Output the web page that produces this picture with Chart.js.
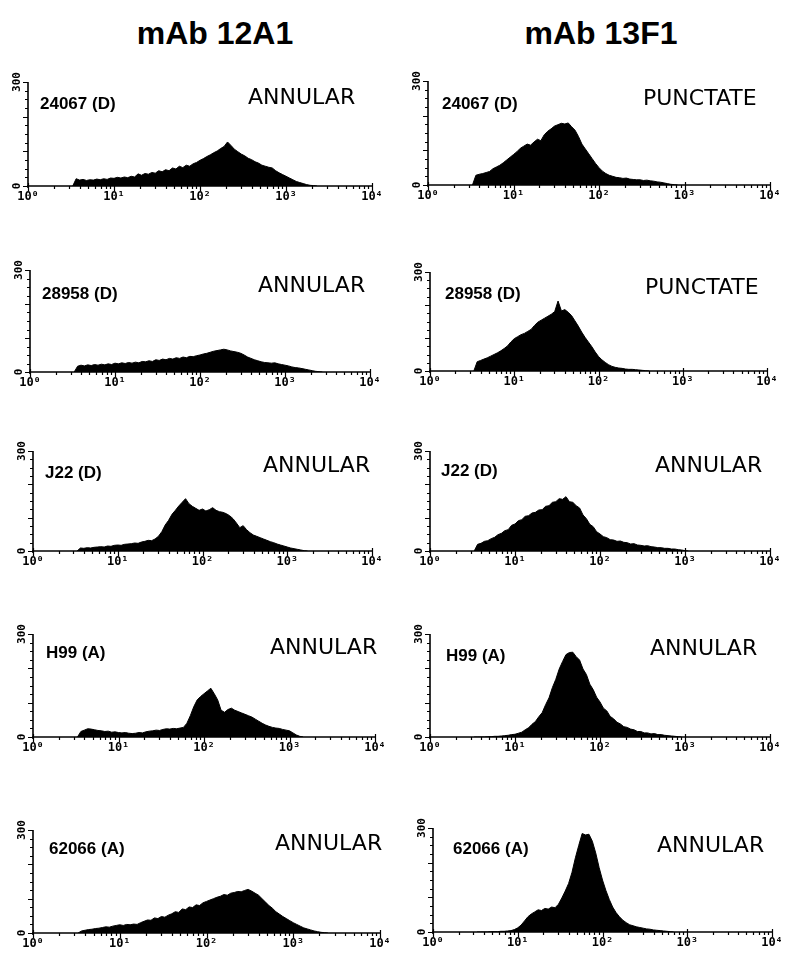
<!DOCTYPE html>
<html><head><meta charset="utf-8">
<script src="https://cdn.jsdelivr.net/npm/chart.js@4.4.1/dist/chart.umd.min.js"></script>
<style>
html,body{margin:0;padding:0;background:#fff;}
#page{position:relative;width:800px;height:966px;overflow:hidden;background:#fff;}
canvas{position:absolute;}
.title{position:absolute;font:bold 32px "Liberation Sans",Arial,sans-serif;line-height:32px;white-space:nowrap;color:#000;transform:translateX(-50%);}
.sample{position:absolute;font:bold 17px "Liberation Sans",Arial,sans-serif;line-height:17px;white-space:nowrap;color:#000;}
.pattern{position:absolute;font-family:"DejaVu Sans",sans-serif;font-size:22px;font-weight:400;line-height:22px;white-space:nowrap;color:#000;}
</style></head><body><div id="page"></div>
<script>
// ---------- data ----------
const mAbTitles = ['mAb 12A1', 'mAb 13F1'];
const sampleNames = ['24067 (D)', '28958 (D)', 'J22 (D)', 'H99 (A)', '62066 (A)'];
const patterns12A1 = ['ANNULAR', 'ANNULAR', 'ANNULAR', 'ANNULAR', 'ANNULAR'];
const patterns13F1 = ['PUNCTATE', 'PUNCTATE', 'ANNULAR', 'ANNULAR', 'ANNULAR'];
const xTickExponents = [0, 1, 2, 3, 4];
const yTickLabels = [0, 300];
// channel grid: first channel at 10^0.52, 0.04 decade per channel
const binStartLog = 0.52, binStepLog = 0.04;

const counts_24067_12A1 = [0,21,17,19,16,18,17,20,18,21,19,23,22,25,23,26,24,28,26,35,31,36,34,39,37,44,41,47,44,52,49,57,53,60,57,64,68,74,79,85,90,96,101,108,114,127,117,106,99,92,87,80,76,70,66,60,57,54,52,44,38,33,28,23,18,13,10,7,4,2,1,0];
const counts_24067_13F1 = [0,28,31,33,36,39,47,52,57,64,72,80,88,96,106,112,118,115,124,132,128,145,155,162,170,174,178,176,179,168,158,140,118,104,90,76,62,50,40,33,28,25,22,21,19,20,17,16,15,15,13,14,12,11,9,8,6,4,2,1,0];
const counts_28958_12A1 = [0,17,20,18,21,19,22,20,23,21,24,22,26,24,27,25,28,26,29,27,31,30,33,31,36,34,38,36,40,38,42,40,44,42,46,45,48,50,53,55,58,61,63,65,67,65,62,60,58,55,50,44,40,36,33,30,28,27,26,27,24,22,20,18,15,13,12,10,8,6,4,2,1,0];
const counts_28958_13F1 = [0,28,32,36,40,45,50,55,61,68,76,88,98,104,110,114,120,126,138,148,154,160,166,172,180,212,182,186,178,168,152,136,118,102,88,74,58,44,34,26,19,14,11,9,8,6,5,5,4,3,2,1,0];
const counts_J22_12A1 = [0,9,8,10,9,11,12,13,12,15,14,17,18,17,20,21,22,24,23,27,29,32,31,36,44,58,78,92,110,122,135,146,157,142,134,128,122,126,120,124,130,122,118,116,112,106,97,84,70,76,64,55,48,44,40,36,32,28,25,21,18,15,12,9,7,5,3,1,0];
const counts_J22_13F1 = [0,20,23,29,31,37,41,49,53,61,64,77,81,91,94,104,106,114,116,123,124,134,136,146,148,157,155,163,148,146,136,129,108,97,80,73,58,51,43,40,34,33,29,30,26,25,21,22,18,17,15,16,13,12,10,10,8,8,6,6,4,3,1,0];
const counts_H99_12A1 = [0,16,20,24,23,21,19,18,16,17,14,15,13,12,13,11,10,11,13,12,15,17,18,20,19,22,24,23,25,24,26,28,40,62,88,108,118,126,134,142,126,108,78,72,80,84,78,74,70,66,62,58,52,46,40,35,31,28,26,25,22,20,18,12,6,2,0];
const counts_H99_13F1 = [0,0,0,0,1,1,2,2,3,4,5,7,8,11,14,21,27,37,45,59,71,94,114,144,168,198,220,240,246,247,234,224,198,182,154,138,116,102,84,76,60,53,43,38,30,28,23,21,16,16,12,12,9,10,7,7,5,4,3,2,1,0];
const counts_62066_12A1 = [0,6,8,10,11,13,14,16,18,17,20,22,24,22,25,24,26,25,30,34,38,37,44,42,48,46,52,56,62,60,70,68,76,74,82,80,88,92,96,100,104,107,112,110,116,118,121,120,124,127,122,116,110,100,90,80,72,62,55,48,42,36,30,25,20,15,12,9,6,4,2,1,0];
const counts_62066_13F1 = [0,0,0,0,1,1,1,2,2,3,4,7,12,20,32,44,52,58,64,62,68,66,72,70,80,98,118,140,172,214,250,284,280,282,262,228,186,150,120,94,72,56,44,34,27,21,18,15,13,11,9,8,6,5,4,3,2,1,0];

const countsByRow12A1 = [counts_24067_12A1, counts_28958_12A1, counts_J22_12A1, counts_H99_12A1, counts_62066_12A1];
const countsByRow13F1 = [counts_24067_13F1, counts_28958_13F1, counts_J22_13F1, counts_H99_13F1, counts_62066_13F1];

// ---------- layout (positions only) ----------
const layoutLeft = [
  {plot:[28,372,82,186],  sample:[40,103],  pattern:[248,97]},
  {plot:[30,370,270,372], sample:[42,293],  pattern:[258,285]},
  {plot:[33,372,451,551], sample:[45,472],  pattern:[263,465]},
  {plot:[33,375,634,737], sample:[46,652],  pattern:[270,647]},
  {plot:[33,380,830,933], sample:[49,848],  pattern:[275,843]}
];
const layoutRight = [
  {plot:[428,770,81,185],  sample:[442,103], pattern:[643,98]},
  {plot:[430,767,272,371], sample:[445,293], pattern:[645,287]},
  {plot:[430,770,451,551], sample:[441,470], pattern:[655,465]},
  {plot:[430,770,634,737], sample:[446,655], pattern:[650,648]},
  {plot:[433,772,828,932], sample:[453,848], pattern:[657,845]}
];
const titleCenters = [[215,17],[601,17]];

const SUP = ['\u2070','\u00B9','\u00B2','\u00B3','\u2074'];
const page = document.getElementById('page');

function addText(cls, text, x, top) {
  const d = document.createElement('div');
  d.className = cls; d.textContent = text;
  d.style.left = x + 'px'; d.style.top = top + 'px';
  page.appendChild(d);
}

mAbTitles.forEach((t, i) => addText('title', t, titleCenters[i][0], titleCenters[i][1]));

const axesPlugin = {
  id: 'flowAxes',
  afterDatasetsDraw(chart) {
    const ctx = chart.ctx, x = chart.scales.x, y = chart.scales.y;
    const L = x.left, R = x.right, T = y.top, B = y.bottom;
    ctx.save();
    ctx.strokeStyle = '#000';
    ctx.lineWidth = 1.6;
    ctx.beginPath();
    ctx.moveTo(L, T); ctx.lineTo(L, B + 2);
    ctx.moveTo(L - 1, B); ctx.lineTo(R + 1, B);
    ctx.stroke();
    ctx.lineWidth = 1.2;
    ctx.beginPath();
    for (let v = 0; v <= 300; v += 25) {
      const py = Math.round(y.getPixelForValue(v)) + 0.5;
      const len = (v % 100 === 0) ? 5 : 3;
      ctx.moveTo(L - len, py); ctx.lineTo(L, py);
    }
    for (let d = 0; d <= 4; d++) {
      for (let m = 1; m <= 9; m++) {
        if (d === 4 && m > 1) break;
        const px = Math.round(x.getPixelForValue(m * Math.pow(10, d))) + 0.5;
        if (m === 1) { ctx.moveTo(px, B - 3); ctx.lineTo(px, B + 5); }
        else { ctx.moveTo(px, B); ctx.lineTo(px, B + 3); }
      }
    }
    ctx.stroke();
    ctx.fillStyle = '#000';
    ctx.font = 'bold 12px "DejaVu Sans Mono", monospace';
    ctx.textAlign = 'center'; ctx.textBaseline = 'top';
    xTickExponents.forEach(e => {
      const px = x.getPixelForValue(Math.pow(10, e));
      ctx.fillText('10' + SUP[e], px, B + 5);
    });
    ctx.font = 'bold 11px "DejaVu Sans Mono", monospace';
    yTickLabels.forEach(v => {
      const py = y.getPixelForValue(v);
      ctx.save();
      ctx.translate(L - 11, py);
      ctx.rotate(-Math.PI / 2);
      ctx.textAlign = 'center'; ctx.textBaseline = 'middle';
      ctx.fillText(String(v), 0, 0);
      ctx.restore();
    });
    ctx.restore();
  }
};

function makePanel(lay, counts, sample, pattern) {
  const [x0, x1, yT, yB] = lay.plot;
  const padL = 30, padT = 12, padR = 20, padB = 22;
  const cv = document.createElement('canvas');
  const w = (x1 - x0) + padL + padR, h = (yB - yT) + padT + padB;
  cv.width = w; cv.height = h;
  cv.style.left = (x0 - padL) + 'px'; cv.style.top = (yT - padT) + 'px';
  cv.style.width = w + 'px'; cv.style.height = h + 'px';
  page.appendChild(cv);
  const pts = counts.map((c, i) => ({x: Math.pow(10, binStartLog + binStepLog * i), y: c}));
  new Chart(cv, {
    type: 'line',
    data: { datasets: [{ data: pts, borderColor: '#000', backgroundColor: '#000', borderWidth: 1,
      fill: 'origin', pointRadius: 0, tension: 0 }] },
    options: {
      responsive: false, maintainAspectRatio: false, animation: false, devicePixelRatio: 1,
      layout: { padding: { left: padL, top: padT, right: padR, bottom: padB } },
      plugins: { legend: { display: false }, tooltip: { enabled: false } },
      scales: {
        x: { type: 'logarithmic', min: 1, max: 10000, display: false },
        y: { type: 'linear', min: 0, max: 300, display: false }
      }
    },
    plugins: [axesPlugin]
  });
  addText('sample', sample, lay.sample[0], lay.sample[1] - 8);
  addText('pattern', pattern, lay.pattern[0], lay.pattern[1] - 11);
}

for (let r = 0; r < 5; r++) {
  makePanel(layoutLeft[r], countsByRow12A1[r], sampleNames[r], patterns12A1[r]);
  makePanel(layoutRight[r], countsByRow13F1[r], sampleNames[r], patterns13F1[r]);
}
</script></body></html>
